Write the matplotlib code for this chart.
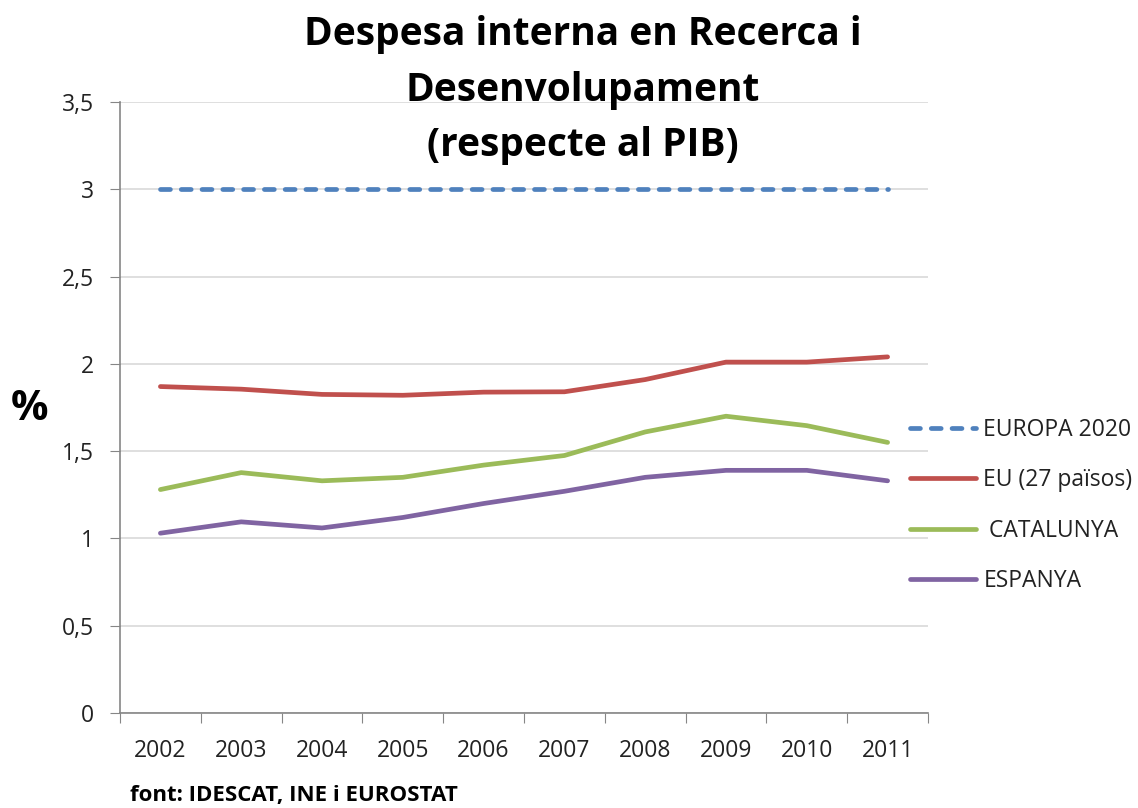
import matplotlib
matplotlib.use("Agg")
import matplotlib.pyplot as plt
from matplotlib.ticker import FixedLocator, FixedFormatter

plt.rcParams['font.family'] = ['Open Sans', 'DejaVu Sans']

years = ['2002', '2003', '2004', '2005', '2006', '2007', '2008', '2009', '2010', '2011']
europa2020 = [3.0] * 10
eu27 = [1.87, 1.855, 1.825, 1.82, 1.838, 1.84, 1.91, 2.01, 2.01, 2.04]
catalunya = [1.28, 1.377, 1.33, 1.35, 1.42, 1.475, 1.61, 1.70, 1.646, 1.55]
espanya = [1.03, 1.095, 1.06, 1.12, 1.20, 1.27, 1.35, 1.39, 1.39, 1.33]
labels = ['EUROPA 2020', 'EU (27 països)', ' CATALUNYA', 'ESPANYA']
colors = ['#4F81BD', '#C0504D', '#9BBB59', '#8064A2']

fig = plt.figure(figsize=(11.38, 8.08), dpi=100)
ax = fig.add_axes([120/1138, 1-713/808, (928-120)/1138, (713-102)/808])

x = list(range(len(years)))
ax.plot(x, europa2020, color=colors[0], lw=3.4, ls=(0, (2.1, 2.3)), dash_capstyle='round', label=labels[0])
ax.plot(x, eu27, color=colors[1], lw=3.4, solid_capstyle='round', label=labels[1])
ax.plot(x, catalunya, color=colors[2], lw=3.4, solid_capstyle='round', label=labels[2])
ax.plot(x, espanya, color=colors[3], lw=3.4, solid_capstyle='round', label=labels[3])

ax.set_xlim(-0.5, len(years) - 0.5)
ax.set_ylim(0, 3.5)
yt = [0, 0.5, 1, 1.5, 2, 2.5, 3, 3.5]
ax.set_yticks(yt)
ax.set_yticklabels(['0', '0,5', '1', '1,5', '2', '2,5', '3', '3,5'])
ax.grid(axis='y', color='#D9D9D9', lw=1.2)
ax.set_axisbelow(True)

ax.xaxis.set_major_locator(FixedLocator([i - 0.5 for i in range(len(years) + 1)]))
ax.xaxis.set_major_formatter(FixedFormatter([''] * (len(years) + 1)))
ax.xaxis.set_minor_locator(FixedLocator(x))
ax.xaxis.set_minor_formatter(FixedFormatter(years))
ax.tick_params(axis='x', which='major', length=7, color='#868686', direction='out')
ax.tick_params(axis='x', which='minor', length=0, labelsize=16.5, pad=19, labelcolor='#222222')
ax.tick_params(axis='y', length=7, color='#868686', labelsize=16.5, pad=12, labelcolor='#222222')

for s in ['top', 'right']:
    ax.spines[s].set_visible(False)
for s in ['left', 'bottom']:
    ax.spines[s].set_color('#868686')
    ax.spines[s].set_linewidth(1.2)

fig.text(583/1138, 1-90/808, 'Despesa interna en Recerca i\nDesenvolupament\n(respecte al PIB)',
         ha='center', va='center', fontsize=28, fontweight='bold', linespacing=1.55, color='black')
fig.text(30/1138, 1-410/808, '%', ha='center', va='center', fontsize=30, fontweight='bold')
fig.text(130/1138, 1-795/808, 'font: IDESCAT, INE i EUROSTAT', ha='left', va='center',
         fontsize=16, fontweight='bold')

leg = fig.legend(loc='upper left', bbox_to_anchor=(910/1138, 1-418/808), frameon=False,
                 fontsize=16.5, handlelength=2.9, handletextpad=0.3, labelspacing=1.15,
                 borderaxespad=0, borderpad=0)
for t in leg.get_texts():
    t.set_color('#222222')

fig.savefig('out.png', dpi=100)
